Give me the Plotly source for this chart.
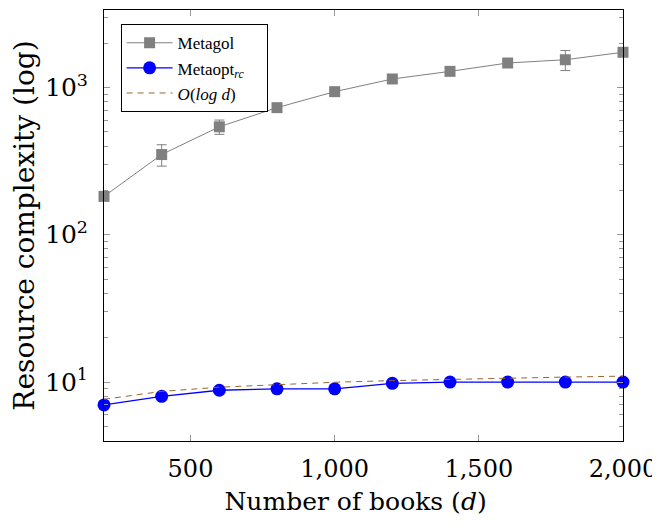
import plotly.graph_objects as go

books = [200, 400, 600, 800, 1000, 1200, 1400, 1600, 1800, 2000]
metagol = [182, 350, 540, 728, 935, 1140, 1284, 1463, 1540, 1730]
metagol_err = [8, 58, 60, 20, 20, 25, 30, 30, 240, 40]
metaopt = [7.0, 8.0, 8.8, 9.0, 9.0, 9.8, 10.0, 10.0, 10.0, 10.0]
olog = [7.64, 8.64, 9.23, 9.64, 9.97, 10.23, 10.45, 10.64, 10.81, 10.97]

x_tickvals = [500, 1000, 1500, 2000]
x_ticktext = ["500", "1,000", "1,500", "2,000"]
y_tickvals = [10, 100, 1000]
y_ticktext = ["10<sup>1</sup>", "10<sup>2</sup>", "10<sup>3</sup>"]
y_minor = [5, 6, 7, 8, 9, 20, 30, 40, 50, 60, 70, 80, 90,
           200, 300, 400, 500, 600, 700, 800, 900, 2000, 3000]

FONT = "DejaVu Serif"
LFONT = "Liberation Serif"
GRAY = "#808080"

fig = go.Figure()
fig.add_trace(go.Scatter(
    x=books, y=metagol, name="Metagol", mode="lines+markers",
    line=dict(color=GRAY, width=1),
    marker=dict(symbol="square", size=11, color=GRAY),
    error_y=dict(type="data", array=metagol_err, color=GRAY, thickness=1, width=5),
    cliponaxis=False,
))
fig.add_trace(go.Scatter(
    x=books, y=metaopt, name="Metaopt<sub><i>rc</i></sub>&nbsp;&nbsp;&nbsp;&nbsp;", mode="lines+markers",
    line=dict(color="#0000ff", width=1.3),
    marker=dict(symbol="circle", size=13, color="#0000ff"),
    cliponaxis=False,
))
fig.add_trace(go.Scatter(
    x=books, y=olog, name="<i>O</i>(<i>log d</i>)", mode="lines",
    line=dict(color="#99662e", width=1, dash="6px,5px"),
))

fig.update_layout(
    width=652, height=517,
    margin=dict(l=96, r=37, t=2, b=84),
    plot_bgcolor="white", paper_bgcolor="white",
    font=dict(family=FONT, color="black", size=20),
    showlegend=True,
    legend=dict(
        x=0.032, y=0.967, xanchor="left", yanchor="top",
        bgcolor="white", bordercolor="black", borderwidth=1,
        font=dict(family=LFONT, size=17, color="black"),
        itemwidth=46,
    ),
    xaxis=dict(
        range=[200, 2000], tickvals=x_tickvals, ticktext=x_ticktext,
        ticks="inside", ticklen=6, tickcolor="#999999",
        showline=True, linecolor="black", linewidth=1, mirror="ticks",
        showgrid=False, zeroline=False, automargin=False,
        tickfont=dict(family=FONT, size=24), ticklabelstandoff=6,
        title=dict(text="Number of books (<i>d</i>)&nbsp;&nbsp;", font=dict(family=FONT, size=25), standoff=10),
    ),
    yaxis=dict(
        type="log", range=[0.6, 3.525],
        tickvals=y_tickvals, ticktext=y_ticktext,
        ticks="inside", ticklen=6, tickcolor="#999999",
        minor=dict(tickvals=y_minor, ticks="inside", ticklen=4, tickcolor="#999999", showgrid=False),
        showline=True, linecolor="black", linewidth=1, mirror="ticks",
        showgrid=False, zeroline=False, automargin=False,
        tickfont=dict(family=FONT, size=25), ticklabelstandoff=10,
        title=dict(text="Resource complexity (log)", font=dict(family=FONT, size=28), standoff=8),
    ),
)

fig.write_html("out.html")
